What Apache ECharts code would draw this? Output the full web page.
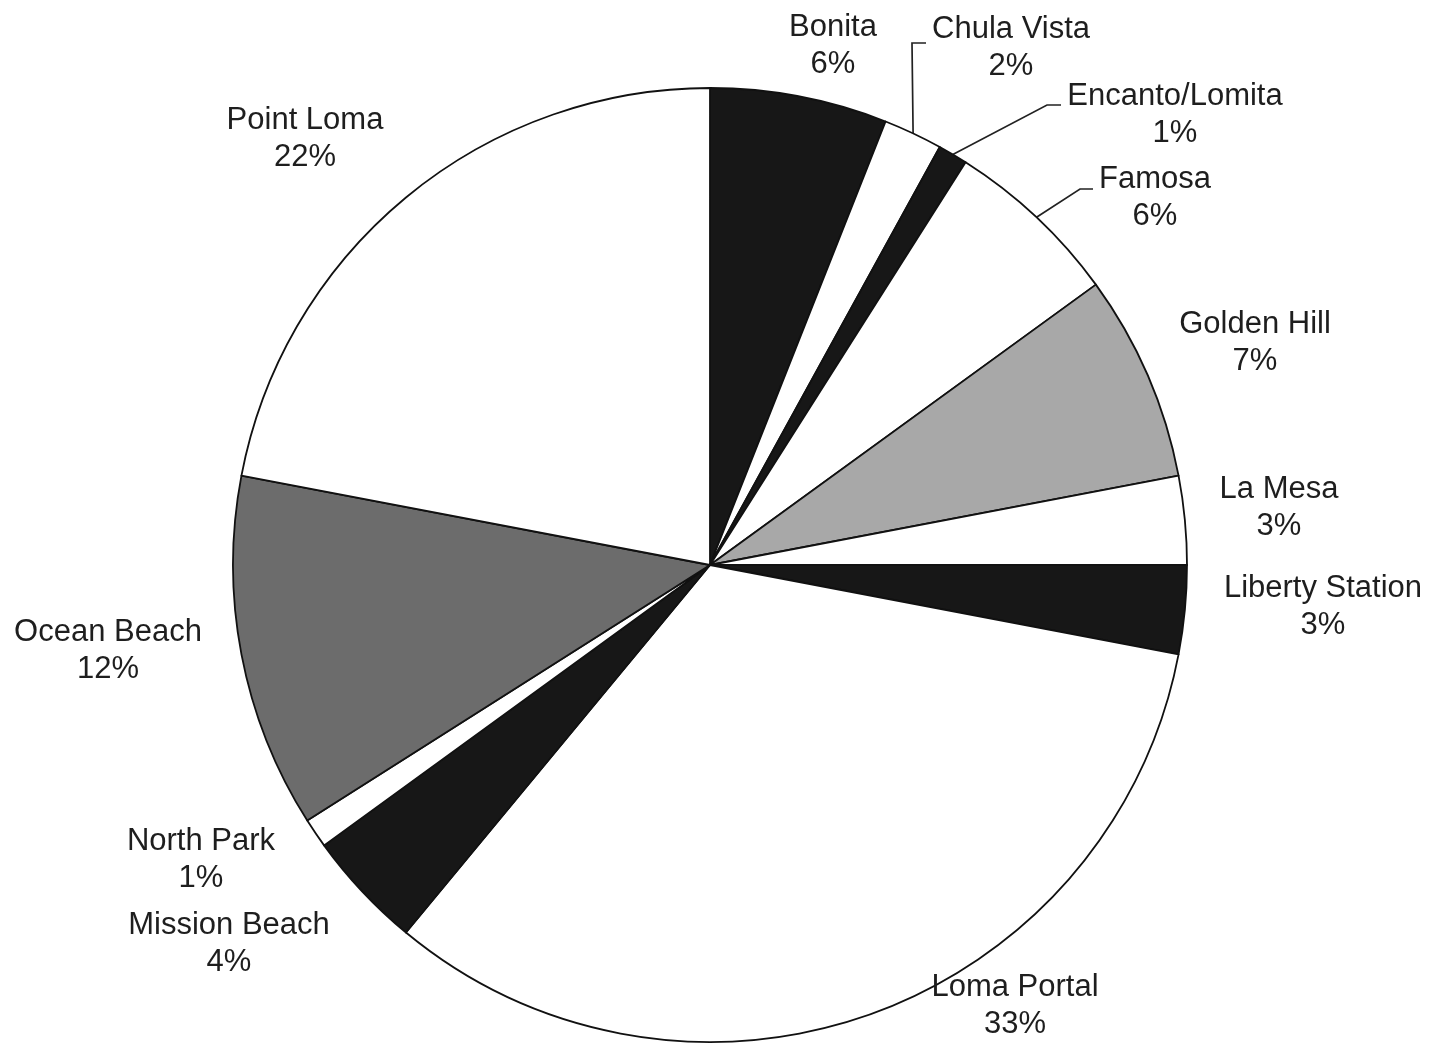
<!DOCTYPE html>
<html>
<head>
<meta charset="utf-8">
<title>Neighborhood share</title>
<script src="https://cdn.jsdelivr.net/npm/echarts@6/dist/echarts.min.js"></script>
<style>
  html, body { margin: 0; padding: 0; background: #ffffff; }
  #chart { width: 1429px; height: 1045px; }
</style>
</head>
<body>
<div id="chart"></div>
<script>
// Neighborhoods, clockwise from 12 o'clock
const neighborhoods = [
  'Bonita', 'Chula Vista', 'Encanto/Lomita', 'Famosa', 'Golden Hill', 'La Mesa',
  'Liberty Station', 'Loma Portal', 'Mission Beach', 'North Park', 'Ocean Beach', 'Point Loma'
];
// Share of respondents, percent
const shares = [6, 2, 1, 6, 7, 3, 3, 33, 4, 1, 12, 22];

// Slice fills
const BLACK = '#171717', WHITE = '#ffffff', LIGHT = '#a8a8a8', DARK = '#6c6c6c';
const fills = [BLACK, WHITE, BLACK, WHITE, LIGHT, WHITE, BLACK, WHITE, BLACK, WHITE, DARK, WHITE];

// Label anchor (centre of the two-line label) for each slice
const labelSpots = {
  'Bonita':          [833, 46],
  'Chula Vista':     [1011, 48],
  'Encanto/Lomita':  [1175, 115],
  'Famosa':          [1155, 198],
  'Golden Hill':     [1255, 343],
  'La Mesa':         [1279, 508],
  'Liberty Station': [1323, 607],
  'Loma Portal':     [1015, 1006],
  'Mission Beach':   [229, 944],
  'North Park':      [201, 860],
  'Ocean Beach':     [108, 651],
  'Point Loma':      [305, 139]
};
// Bent leader lines: elbow point and end point
const leaders = {
  'Chula Vista':    [[912, 43], [926, 43]],
  'Encanto/Lomita': [[1047, 105], [1061, 105]],
  'Famosa':         [[1080, 189], [1093, 189]]
};

const CX = 710, CY = 565, R = 477;
const total = shares.reduce((a, b) => a + b, 0);

// Point on the rim at the middle of slice i
function rimPoint(i) {
  let before = 0;
  for (let k = 0; k < i; k++) before += shares[k];
  const mid = (before + shares[i] / 2) / total * Math.PI * 2;
  return [CX + R * Math.sin(mid), CY - R * Math.cos(mid)];
}

const data = neighborhoods.map((name, i) => ({
  name: name,
  value: shares[i],
  itemStyle: { color: fills[i] },
  labelLine: { show: !!leaders[name] }
}));

const chart = echarts.init(document.getElementById('chart'), null, { renderer: 'canvas' });
chart.setOption({
  animation: false,
  backgroundColor: '#ffffff',
  series: [{
    type: 'pie',
    center: [CX, CY],
    radius: [0, R],
    startAngle: 90,
    clockwise: true,
    avoidLabelOverlap: false,
    silent: true,
    data: data,
    itemStyle: { borderColor: '#111111', borderWidth: 1.8 },
    label: {
      show: true,
      position: 'outside',
      formatter: p => p.name + '\n' + p.value + '%',
      fontFamily: 'Liberation Sans, Arial, Helvetica, sans-serif',
      fontSize: 31,
      lineHeight: 37,
      color: '#1e1e1e',
      align: 'center',
      verticalAlign: 'middle'
    },
    labelLine: {
      show: false,
      lineStyle: { color: '#222222', width: 1.7 }
    },
    labelLayout: function (params) {
      const name = neighborhoods[params.dataIndex];
      const spot = labelSpots[name];
      const out = { x: spot[0], y: spot[1], align: 'center', verticalAlign: 'middle' };
      if (leaders[name]) {
        out.labelLinePoints = [rimPoint(params.dataIndex), leaders[name][0], leaders[name][1]];
      }
      return out;
    }
  }]
});
</script>
</body>
</html>
